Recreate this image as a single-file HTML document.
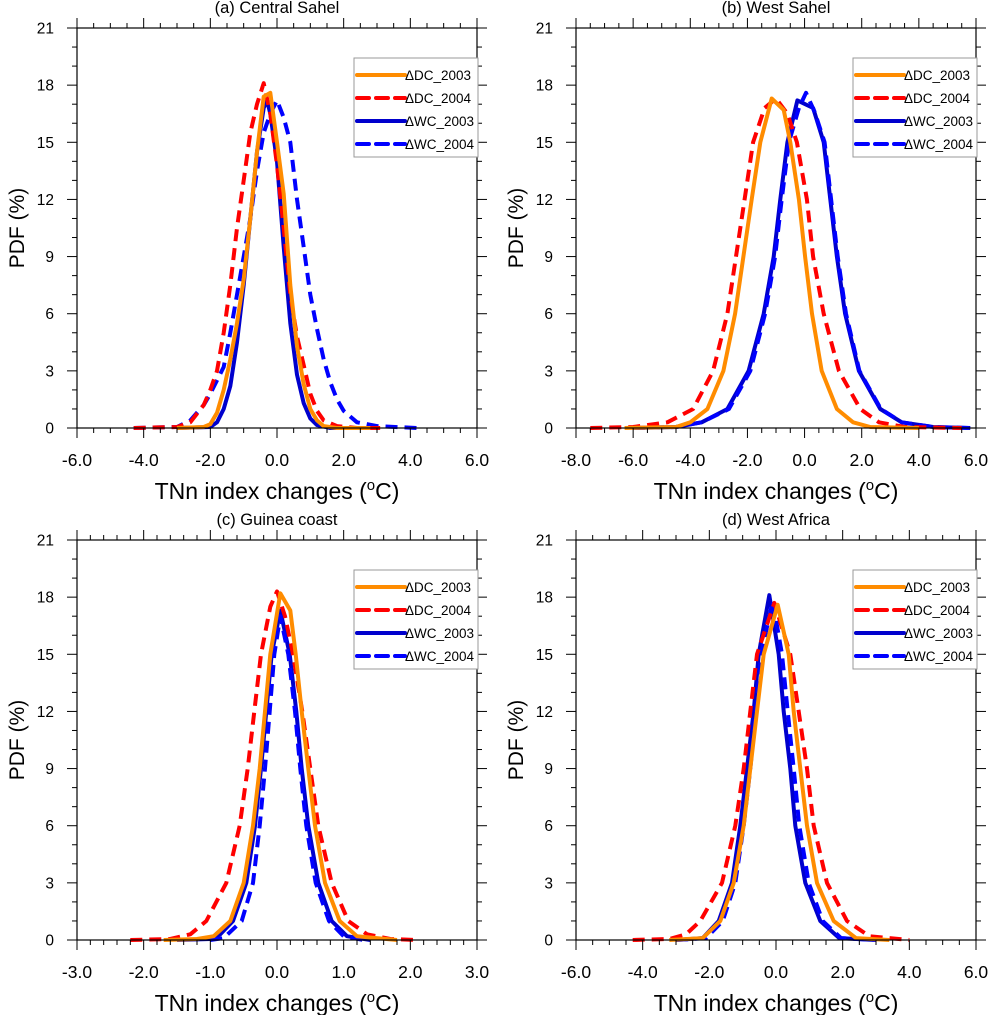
<!DOCTYPE html>
<html><head><meta charset="utf-8"><style>
html,body{margin:0;padding:0;background:#fff;}
svg{display:block;font-family:"Liberation Sans",Arial,sans-serif;}
</style></head><body>
<svg id="fig" width="988" height="1015" viewBox="0 0 988 1015" xmlns="http://www.w3.org/2000/svg"></svg>
<script>
// ---- data ----
const panelTitles = ["(a) Central Sahel","(b) West Sahel","(c) Guinea coast","(d) West Africa"];
const seriesNames = ["ΔDC_2003","ΔDC_2004","ΔWC_2003","ΔWC_2004"];
const yTicks = [0,3,6,9,12,15,18,21];
const xTicksA = [-6,-4,-2,0,2,4,6];
const xTicksB = [-8,-6,-4,-2,0,2,4,6];
const xTicksC = [-3,-2,-1,0,1,2,3];
const xTicksD = [-6,-4,-2,0,2,4,6];

// Panel a
const aDC03x = [-3,-2.2,-2,-1.8,-1.6,-1.4,-1.2,-1.0,-0.8,-0.6,-0.4,-0.2,0,0.2,0.4,0.6,0.8,1.0,1.2,1.4,1.8,2.8];
const aDC03y = [0,0.05,0.2,0.8,2,3.6,5.5,7.8,11,14.5,17.4,17.6,15,12.3,7.5,4.3,2.3,1,0.4,0.1,0,0];
const aDC04x = [-4.3,-3,-2.6,-2.2,-2.0,-1.8,-1.6,-1.4,-1.2,-1.0,-0.8,-0.6,-0.4,-0.2,0,0.2,0.4,0.6,0.8,1.0,1.2,1.4,1.8,2.4,3.3];
const aDC04y = [0,0.05,0.3,1.2,2,3,5,7.5,10.5,13,15.5,17,18.1,16.5,13.8,10.5,7,4.8,3.3,1.8,0.9,0.4,0.1,0,0];
const aWC03x = [-3,-2,-1.8,-1.6,-1.4,-1.2,-1.0,-0.8,-0.6,-0.4,-0.3,-0.2,0,0.2,0.4,0.6,0.8,1.0,1.2,1.6,2.5];
const aWC03y = [0,0.05,0.3,1,2.2,4.5,7.5,11,14.5,16.8,17.2,16.5,14,9.5,5.5,2.8,1.3,0.5,0.15,0,0];
const aWC04x = [-4.3,-3,-2.6,-2.2,-2,-1.8,-1.6,-1.4,-1.2,-1.0,-0.8,-0.6,-0.4,-0.2,0,0.2,0.4,0.6,0.8,1.0,1.2,1.4,1.6,1.8,2.0,2.4,3,4.2];
const aWC04y = [0,0.05,0.4,1.2,1.8,2.5,3.2,5,7,9,11,13.5,15.5,16.5,17.2,16.3,15,12,9.5,7,5.2,3.6,2.4,1.5,0.9,0.3,0.1,0];

// Panel b
const bDC03x = [-6.3,-4.5,-4,-3.4,-2.84,-2.43,-2.14,-1.85,-1.55,-1.15,-0.73,-0.5,-0.2,0.02,0.26,0.6,1.13,1.7,2.3,4];
const bDC03y = [0,0.05,0.3,1,3,6,9,12,15,17.3,16.7,15,12,9,6,3,1,0.3,0.05,0];
const bDC04x = [-7.5,-6,-4.8,-3.9,-3.2,-2.7,-2.4,-2.1,-1.8,-1.4,-1.0,-0.6,-0.27,0.08,0.3,0.67,1.2,1.95,2.6,3.5,5.5];
const bDC04y = [0,0.05,0.3,1,3,6,9,12,15,16.8,17.3,16.5,15,12,9,6,3,1,0.3,0.05,0];
const bWC03x = [-6,-4.5,-3.6,-2.7,-1.96,-1.43,-1.08,-0.85,-0.6,-0.25,0.3,0.67,0.9,1.13,1.42,1.9,2.65,3.4,4.5,5.8];
const bWC03y = [0,0.05,0.3,1,3,6,9,12,15,17.2,16.8,15,12,9,6,3,1,0.3,0.05,0];
const bWC04x = [-6,-4.5,-3.6,-2.65,-1.9,-1.38,-1.03,-0.8,-0.55,-0.2,0.05,0.35,0.7,0.93,1.16,1.45,1.92,2.67,3.4,4.5,5.8];
const bWC04y = [0,0.05,0.3,1,3,6,9,12,15,16.8,17.6,16.6,15,12,9,6,3,1,0.3,0.05,0];

// Panel c
const cDC03x = [-1.7,-1.2,-0.95,-0.7,-0.5,-0.36,-0.26,-0.18,-0.1,0.05,0.2,0.28,0.37,0.47,0.57,0.72,0.94,1.2,1.8];
const cDC03y = [0,0.05,0.2,1,3,6,9,12,15,18.2,17.3,15,12,9,6,3,1,0.2,0];
const cDC04x = [-2.2,-1.6,-1.3,-1.06,-0.76,-0.56,-0.44,-0.34,-0.24,-0.1,0,0.12,0.24,0.38,0.5,0.62,0.82,1.07,1.35,1.7,2.1];
const cDC04y = [0,0.05,0.3,1,3,6,9,12,15,17.5,18.3,17,15,12,9,6,3,1,0.3,0.05,0];
const cWC03x = [-1.5,-1.0,-0.85,-0.66,-0.46,-0.33,-0.24,-0.16,-0.08,0.05,0.19,0.29,0.37,0.47,0.62,0.82,1.05,1.4];
const cWC03y = [0,0.05,0.3,1,3,6,9,12,15,17.3,15,12,9,6,3,1,0.2,0];
const cWC04x = [-1.0,-0.8,-0.53,-0.36,-0.26,-0.18,-0.11,-0.04,0.05,0.17,0.27,0.35,0.44,0.58,0.78,1.0,1.3];
const cWC04y = [0,0.1,1,3,6,9,12,15,17,15,12,9,6,3,1,0.2,0];

// Panel d
const dDC03x = [-3.2,-2.2,-1.67,-1.27,-0.97,-0.77,-0.57,-0.37,0.05,0.38,0.53,0.73,0.93,1.23,1.73,2.4,3.4];
const dDC03y = [0,0.1,1,3,6,9,12,15,17.6,15,12,9,6,3,1,0.1,0];
const dDC04x = [-4.3,-3.2,-2.7,-2.27,-1.62,-1.22,-0.97,-0.77,-0.57,-0.05,0.43,0.68,0.93,1.13,1.53,2.13,2.8,4];
const dDC04y = [0,0.05,0.3,1,3,6,9,12,15,17.7,15,12,9,6,3,1,0.2,0];
const dWC03x = [-3,-2.2,-1.72,-1.32,-1.07,-0.87,-0.67,-0.52,-0.2,0.08,0.23,0.43,0.58,0.88,1.33,1.9,3];
const dWC03y = [0,0.1,1,3,6,9,12,15,18.1,15,12,9,6,3,1,0.1,0];
const dWC04x = [-3,-2.1,-1.6,-1.22,-0.97,-0.77,-0.6,-0.45,-0.1,0.18,0.35,0.53,0.7,0.98,1.4,1.95,3];
const dWC04y = [0,0.1,1,3,6,9,12,15,17.8,15,12,9,6,3,1,0.1,0];

const panels = [
  {title:panelTitles[0], x0:77, y0:28, xmin:-6, xmax:6, xt:xTicksA, minor:0.5, dec:1,
   s:[[aDC03x,aDC03y],[aDC04x,aDC04y],[aWC03x,aWC03y],[aWC04x,aWC04y]]},
  {title:panelTitles[1], x0:576, y0:28, xmin:-8, xmax:6, xt:xTicksB, minor:0.5, dec:1,
   s:[[bDC03x,bDC03y],[bDC04x,bDC04y],[bWC03x,bWC03y],[bWC04x,bWC04y]]},
  {title:panelTitles[2], x0:77, y0:540, xmin:-3, xmax:3, xt:xTicksC, minor:0.2, dec:1,
   s:[[cDC03x,cDC03y],[cDC04x,cDC04y],[cWC03x,cWC03y],[cWC04x,cWC04y]]},
  {title:panelTitles[3], x0:576, y0:540, xmin:-6, xmax:6, xt:xTicksD, minor:0.5, dec:1,
   s:[[dDC03x,dDC03y],[dDC04x,dDC04y],[dWC03x,dWC03y],[dWC04x,dWC04y]]}
];
const styles = [
  {c:"#ff8c00", dash:null, name:"dc-2003"},
  {c:"#ff0000", dash:"12 7", name:"dc-2004"},
  {c:"#0000cd", dash:null, name:"wc-2003"},
  {c:"#0000ff", dash:"12 7", name:"wc-2004"}
];
const W=400,H=400,YMAX=21;
const NS="http://www.w3.org/2000/svg";
const svg=document.getElementById('fig');
function mk(tag,attrs,parent){const e=document.createElementNS(NS,tag);for(const k in attrs)e.setAttribute(k,attrs[k]);(parent||svg).appendChild(e);return e;}

panels.forEach((p,pi)=>{
  const g=mk('g',{});
  
  
  const sx=v=>p.x0+(v-p.xmin)/(p.xmax-p.xmin)*W;
  const sy=v=>p.y0+H-v/YMAX*H;
  const t=mk('text',{x:p.x0+W/2,y:p.y0-15,'text-anchor':'middle','font-size':16.5,fill:'#000'},g);
  t.textContent=p.title;
  
  
  [2,3,1,0].forEach(si=>{
    const st=styles[si];const [xs,ys]=p.s[si];
    const pts=xs.map((x,i)=>sx(x).toFixed(1)+','+sy(ys[i]).toFixed(1)).join(' ');
    const pl=mk('polyline',{points:pts,fill:'none',stroke:st.c,'stroke-width':4,'stroke-linejoin':'round'},g);
    if(st.dash)pl.setAttribute('stroke-dasharray',st.dash);
    
    
  });
  const fr=mk('rect',{x:p.x0,y:p.y0,width:W,height:H,fill:'none',stroke:'#000','stroke-width':1.2},g);
  
  
  for(let v=0;v<=YMAX;v++){
    const y=sy(v);const L=(v%3===0)?10:5;
    mk('line',{x1:p.x0-L,y1:y,x2:p.x0,y2:y,stroke:'#000','stroke-width':1},g);
    mk('line',{x1:p.x0+W,y1:y,x2:p.x0+W+L,y2:y,stroke:'#000','stroke-width':1},g);
  }
  yTicks.forEach(v=>{
    const tx=mk('text',{x:p.x0-23,y:sy(v)+5.5,'text-anchor':'end','font-size':15.5},g);
    tx.textContent=v;
    
    
  });
  const nMin=Math.round((p.xmax-p.xmin)/p.minor);
  for(let i=0;i<=nMin;i++){
    const v=p.xmin+i*p.minor;const x=sx(v);
    const major=p.xt.some(m=>Math.abs(m-v)<1e-6);const L=major?10:5;
    mk('line',{x1:x,y1:p.y0+H,x2:x,y2:p.y0+H+L,stroke:'#000','stroke-width':1},g);
    mk('line',{x1:x,y1:p.y0-L,x2:x,y2:p.y0,stroke:'#000','stroke-width':1},g);
  }
  p.xt.forEach(v=>{
    const tx=mk('text',{x:sx(v),y:p.y0+H+38,'text-anchor':'middle','font-size':17.5},g);
    tx.textContent=v.toFixed(p.dec);
    
    
  });
  const yt=mk('text',{x:0,y:0,'text-anchor':'middle','font-size':21,transform:`translate(${p.x0-53},${p.y0+H/2}) rotate(-90)`},g);
  yt.textContent='PDF (%)';
  
  
  const xt=mk('text',{x:p.x0+W/2,y:p.y0+H+71,'text-anchor':'middle','font-size':23},g);
  
  
  xt.appendChild(document.createTextNode('TNn index changes ('));
  const sup=mk('tspan',{'font-size':15,dy:-9},xt);sup.textContent='o';
  const cc=mk('tspan',{dy:9},xt);cc.textContent='C)';
  const lg=mk('g',{},g);
  
  
  const lx=p.x0+277, ly=p.y0+30;
  mk('rect',{x:lx,y:ly,width:124,height:99,fill:'#fff',stroke:'#999','stroke-width':1},lg);
  styles.forEach((st,i)=>{
    const y=ly+17+i*23;
    const e=mk('g',{},lg);
    
    
    const ln=mk('line',{x1:lx+3,y1:y,x2:lx+51,y2:y,stroke:st.c,'stroke-width':4,'stroke-linecap':'round'},e);
    if(st.dash)ln.setAttribute('stroke-dasharray',st.dash);
    const tx=mk('text',{x:lx+51,y:y+5,'font-size':13.5},e);
    tx.textContent=seriesNames[i];
  });
});
</script>
</body></html>
